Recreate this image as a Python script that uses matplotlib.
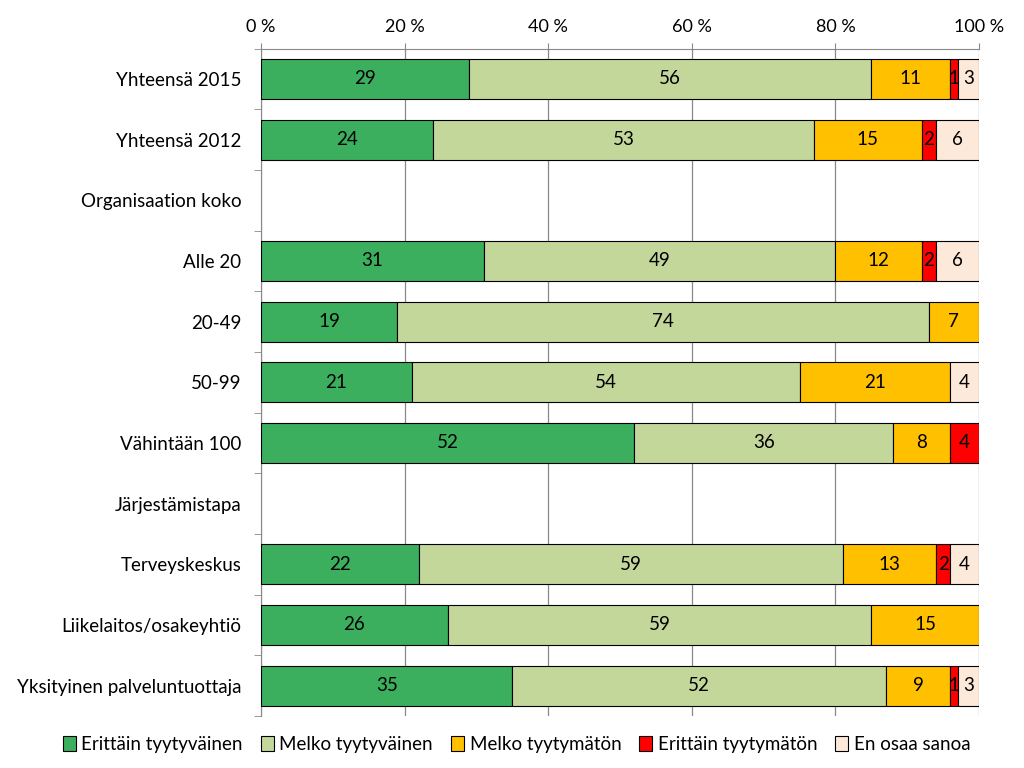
import numpy as np
import matplotlib.pyplot as plt

plt.rcParams['font.family'] = ['Lato', 'DejaVu Sans']

categories = ['Yhteensä 2015', 'Yhteensä 2012', 'Organisaation koko', 'Alle 20', '20-49',
              '50-99', 'Vähintään 100', 'Järjestämistapa', 'Terveyskeskus',
              'Liikelaitos/osakeyhtiö', 'Yksityinen palveluntuottaja']
series = ['Erittäin tyytyväinen', 'Melko tyytyväinen', 'Melko tyytymätön',
          'Erittäin tyytymätön', 'En osaa sanoa']
erittain_tyyt = [29, 24, 0, 31, 19, 21, 52, 0, 22, 26, 35]
melko_tyyt = [56, 53, 0, 49, 74, 54, 36, 0, 59, 59, 52]
melko_tyytym = [11, 15, 0, 12, 7, 21, 8, 0, 13, 15, 9]
erittain_tyytym = [1, 2, 0, 2, 0, 0, 4, 0, 2, 0, 1]
en_osaa = [3, 6, 0, 6, 0, 4, 0, 0, 4, 0, 3]
colors = ['#3CAF5E', '#C4D79B', '#FFC000', '#FF0000', '#FDE9D9']

data = [erittain_tyyt, melko_tyyt, melko_tyytym, erittain_tyytym, en_osaa]

fig = plt.figure(figsize=(10.24, 7.68), dpi=100)
ax = fig.add_axes([0.2549, 0.0677, 0.7012, 0.869])

y = np.arange(len(categories))
left = np.zeros(len(categories))
for vals, col, name in zip(data, colors, series):
    vals = np.array(vals, dtype=float)
    edges = ['black' if v > 0 else 'none' for v in vals]
    bars = ax.barh(y, vals, left=left, height=0.66, color=col, edgecolor=edges,
                   linewidth=0.8, label=name, zorder=3)
    for b, v in zip(bars, vals):
        if v > 0:
            ax.text(b.get_x() + b.get_width() / 2, b.get_y() + b.get_height() / 2,
                    '%d' % v, ha='center', va='center', fontsize=13.5, zorder=4)
    left += vals

ax.set_xlim(0, 100)
ax.set_ylim(len(categories) - 0.5, -0.5)
ax.set_xticks(np.arange(0, 101, 20))
ax.set_xticklabels(['%d %%' % t for t in range(0, 101, 20)], fontsize=13)
ax.xaxis.tick_top()
ax.tick_params(axis='x', length=4, color='#888888', pad=6)
ax.set_yticks(y)
ax.set_yticklabels(categories, fontsize=13.5)
ax.tick_params(axis='y', length=0, pad=14)
ax.set_yticks(np.arange(-0.5, len(categories), 1), minor=True)
ax.tick_params(axis='y', which='minor', length=5, color='#888888')
ax.grid(axis='x', color='#888888', linewidth=0.9, zorder=0)

for s in ['right', 'bottom']:
    ax.spines[s].set_visible(False)
ax.spines['top'].set_color('#888888')
ax.spines['left'].set_color('#888888')

leg = ax.legend(loc='upper center', bbox_to_anchor=(0.356, -0.004), ncol=5, frameon=False,
                fontsize=13.5, handlelength=0.7, handleheight=0.9, handletextpad=0.3,
                columnspacing=0.95)
for h in leg.legend_handles:
    h.set_edgecolor('black')
    h.set_linewidth(0.8)

plt.savefig('out.png', dpi=100)
